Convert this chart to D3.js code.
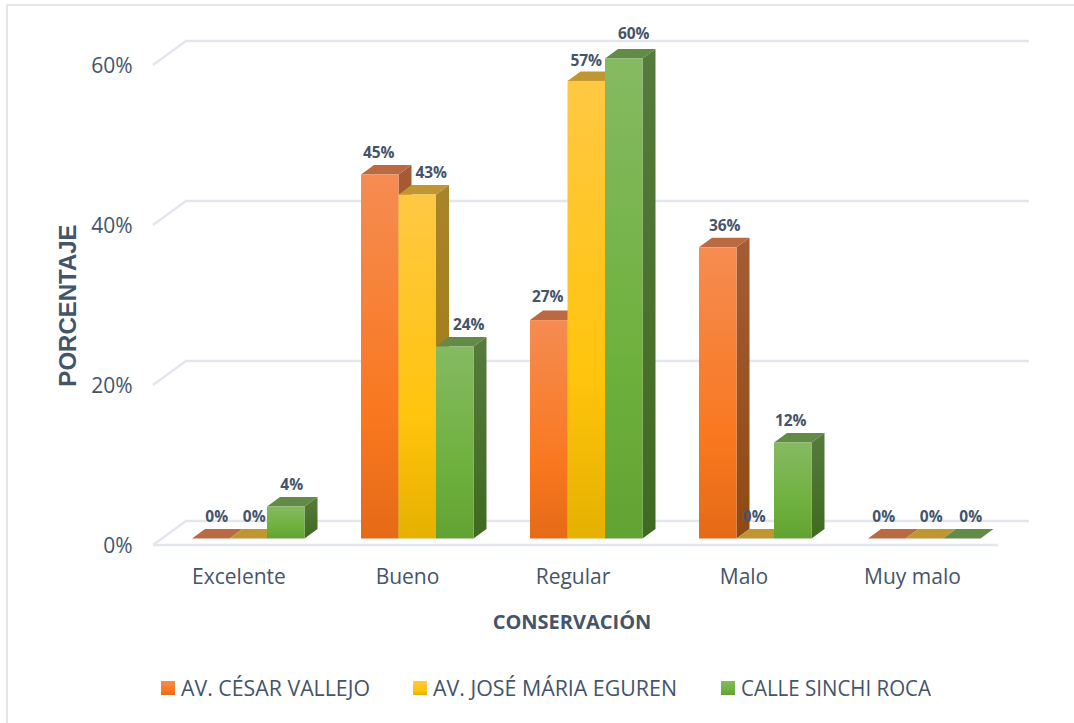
<!DOCTYPE html>
<html><head><meta charset="utf-8">
<script src="https://cdn.jsdelivr.net/npm/d3@7"></script>
<style>html,body{margin:0;padding:0;background:#fff}svg{display:block}</style>
</head><body><svg id="c" width="1074" height="723"></svg>
<script>
const categories = ["Excelente","Bueno","Regular","Malo","Muy malo"];
const seriesNames = ["AV. CÉSAR VALLEJO","AV. JOSÉ MÁRIA EGUREN","CALLE SINCHI ROCA"];
const vallejo = [0,45.5,27.3,36.4,0];
const eguren = [0,43,57.2,0,0];
const sinchi = [4,24,60,12,0];
const valueLabels = [["0%","45%","27%","36%","0%"],["0%","43%","57%","0%","0%"],["4%","24%","60%","12%","0%"]];
const yTicks = [0,20,40,60];
// hand-placed label nudges, as in the source chart
const labelNudgeX = [[6,-1,-1,7,-3],[6,14,0,-1,7],[6,14,10,-2,9]];
const labelNudgeY = [[0,0,-1,1,0],[0,0,2,0,0],[0,0,-3,0,0]];
const categoryNudge = [1.5,1,-2.5,-0.5,-1];
const legendTextWidth = [189,244,190];

const text="#44546a";
const svg=d3.select("#c");
const defs=svg.append("defs");
const palette=[
 {top:"#f58c52",bot:"#e56a17",mid:"#f9781f",roof:"#b96a42",sideT:"#a55c34",sideB:"#8f4a12"},
 {top:"#ffc843",bot:"#e5b000",mid:"#ffc40c",roof:"#bf9632",sideT:"#a8842a",sideB:"#a07a0c"},
 {top:"#85ba62",bot:"#62a233",mid:"#6eb03c",roof:"#618b46",sideT:"#567b3d",sideB:"#3f6a20"}];
palette.forEach((p,i)=>{
 const g=defs.append("linearGradient").attr("id","g"+i).attr("x1",0).attr("y1",0).attr("x2",0).attr("y2",1);
 g.append("stop").attr("offset","0%").attr("stop-color",p.top);
 g.append("stop").attr("offset","65%").attr("stop-color",p.mid);
 g.append("stop").attr("offset","100%").attr("stop-color",p.bot);
 const s=defs.append("linearGradient").attr("id","s"+i).attr("x1",0).attr("y1",0).attr("x2",0).attr("y2",1);
 s.append("stop").attr("offset","0%").attr("stop-color",p.sideT);
 s.append("stop").attr("offset","100%").attr("stop-color",p.sideB);
});
// outer frame: only top and left edges are visible in the crop
svg.append("path").attr("d","M7,723L7,5L1074,5").attr("fill","none").attr("stroke","#e3e6ec").attr("stroke-width",2);

const x=d3.scaleBand().domain(categories).range([153,998]);
const sub=d3.scaleBand().domain(d3.range(3)).range([39,39+112.5]);
const yFront=d3.scaleLinear().domain([0,60]).range([545,65]);
const dx=33, dy=-24;       // floor depth of the 3D box
const bdx=13, bdy=-9.5;    // bar depth
const baseOff=-6.5;        // bars stand slightly behind the front floor edge

// grid
const grid=svg.append("g").attr("fill","none").attr("stroke","#e3e6ec").attr("stroke-width",2.4);
yTicks.forEach(t=>{
 const y=yFront(t);
 grid.append("path").attr("d",`M153,${y}L${153+dx},${y+dy}L1029,${y+dy}`);
});
grid.append("path").attr("d",`M153,${yFront(0)}L998,${yFront(0)}`);

// y tick labels
svg.append("g").selectAll("text").data(yTicks).join("text")
 .attr("x",132.5).attr("y",d=>yFront(d)+7.5).attr("text-anchor","end")
 .attr("font-family","'Open Sans'").attr("font-size",21).attr("fill",text)
 .text(d=>d+"%");
// category labels
svg.append("g").selectAll("text").data(categories).join("text")
 .attr("x",(d,i)=>x(d)+x.bandwidth()/2+categoryNudge[i]).attr("y",584).attr("text-anchor","middle")
 .attr("font-family","'Open Sans'").attr("font-size",21).attr("fill",text)
 .text(d=>d);

// bars
const all=[vallejo,eguren,sinchi];
const bars=svg.append("g");
categories.forEach((c,ci)=>{
 all.forEach((vals,si)=>{
  const v=vals[ci],p=palette[si];
  const x0=x(c)+sub(si),w=sub.bandwidth(),yb=yFront(0)+baseOff,yt=yFront(v)+baseOff;
  const g=bars.append("g");
  if(v>0){
   g.append("path").attr("fill",`url(#s${si})`).attr("d",`M${x0+w},${yt}L${x0+w+bdx},${yt+bdy}L${x0+w+bdx},${yb+bdy}L${x0+w},${yb}Z`);
  }
  g.append("path").attr("fill",p.roof).attr("d",`M${x0},${yt}L${x0+bdx},${yt+bdy}L${x0+w+bdx},${yt+bdy}L${x0+w},${yt}Z`);
  if(v>0){
   g.append("rect").attr("x",x0).attr("y",yt).attr("width",w).attr("height",yb-yt).attr("fill",`url(#g${si})`);
  }
 });
});
// value labels
const lab=svg.append("g").attr("font-family","'Open Sans'").attr("font-weight",700).attr("font-size",15.5).attr("fill",text).attr("text-anchor","middle");
categories.forEach((c,ci)=>{
 all.forEach((vals,si)=>{
  const v=vals[ci];
  const x0=x(c)+sub(si)+sub.bandwidth()/2;
  lab.append("text").attr("x",x0+labelNudgeX[si][ci]).attr("y",yFront(v)-6.5-17+labelNudgeY[si][ci]).text(valueLabels[si][ci]);
 });
});
// axis titles
svg.append("text").attr("transform","translate(76,305.5) rotate(-90)").attr("text-anchor","middle")
 .attr("font-family","'Liberation Sans'").attr("font-weight",700).attr("font-size",24).attr("fill",text).text("PORCENTAJE");
svg.append("text").attr("x",572).attr("y",629).attr("text-anchor","middle")
 .attr("font-family","'Open Sans'").attr("font-weight",700).attr("font-size",20).attr("fill",text).text("CONSERVACIÓN");
// legend
const legX=[161,413,721];
const leg=svg.append("g").selectAll("g").data(seriesNames).join("g").attr("transform",(d,i)=>`translate(${legX[i]},681)`);
leg.append("rect").attr("width",14).attr("height",14).attr("fill",(d,i)=>`url(#g${i})`);
leg.append("text").attr("x",20).attr("y",14.5).attr("font-family","'Open Sans'").attr("font-size",21).attr("fill",text)
 .attr("textLength",(d,i)=>legendTextWidth[i]).attr("lengthAdjust","spacingAndGlyphs").text(d=>d);
</script></body></html>
